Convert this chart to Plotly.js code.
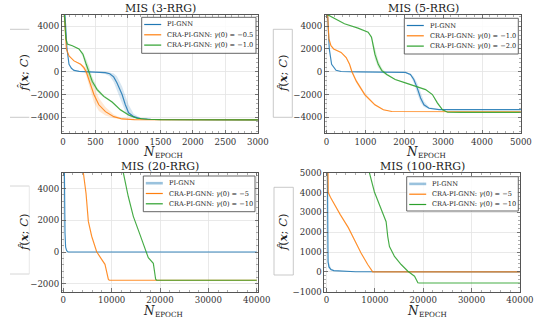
<!DOCTYPE html>
<html><head><meta charset="utf-8">
<script src="https://cdn.plot.ly/plotly-3.0.1.min.js"></script>
<style>html,body{margin:0;padding:0;background:#fff}#chart{width:535px;height:320px}</style>
</head><body><div id="chart"></div>
<script>
// ---------------- DATA ----------------
const titles = ['MIS (3-RRG)', 'MIS (5-RRG)', 'MIS (20-RRG)', 'MIS (100-RRG)'];
const seriesNames = ['PI-GNN', 'CRA-PI-GNN'];
const gammaLabels1 = ['−0.5', '−1.0'];
const gammaLabels2 = ['−1.0', '−2.0'];
const gammaLabels3 = ['−5', '−10'];
const gammaLabels4 = ['−5', '−10'];

// Panel 1: MIS (3-RRG)
const p1_pi_x  = [0, 30, 62, 93, 130, 170, 250, 400, 550, 650, 720, 780, 830, 880, 910, 960, 1010, 1090, 1200, 1350, 1500, 2000, 3000];
const p1_pi_y  = [8000, 5000, 2000, 650, 300, 120, 30, -10, -40, -80, -180, -450, -960, -1600, -2000, -2900, -3600, -3940, -4120, -4180, -4200, -4210, -4220];
const p1_pi_hi = [8000, 5000, 2000, 650, 300, 130, 50, 30, 20, 0, -60, -150, -400, -900, -1300, -2100, -2900, -3700, -4050, -4160, -4190, -4200, -4210];
const p1_pi_lo = [8000, 5000, 2000, 650, 300, 110, 10, -50, -100, -200, -400, -900, -1600, -2400, -2800, -3500, -3900, -4080, -4170, -4200, -4210, -4220, -4230];

const p1_a_x  = [0, 20, 52, 93, 170, 272, 322, 358, 409, 476, 552, 654, 782, 909, 1100, 1500, 3000];
const p1_a_y  = [7000, 4800, 2000, 1390, 950, 650, 355, 0, -830, -2000, -2900, -3500, -3940, -4140, -4200, -4210, -4220];
const p1_a_hi = [7000, 4800, 2000, 1400, 980, 720, 520, 250, -300, -1300, -2300, -3100, -3750, -4080, -4180, -4200, -4210];
const p1_a_lo = [7000, 4800, 2000, 1380, 920, 580, 150, -350, -1400, -2700, -3450, -3850, -4070, -4180, -4220, -4220, -4230];

const p1_b_x  = [0, 20, 45, 67, 144, 246, 307, 358, 399, 450, 526, 628, 756, 883, 1011, 1138, 1300, 1500, 3000];
const p1_b_y  = [7000, 4800, 2900, 2430, 2280, 2000, 1540, 650, 0, -830, -1570, -2160, -2660, -3340, -3790, -4080, -4170, -4200, -4220];
const p1_b_hi = [7000, 4800, 2900, 2430, 2290, 2030, 1700, 1100, 500, -450, -1400, -2050, -2600, -3250, -3720, -4050, -4160, -4200, -4220];
const p1_b_lo = [7000, 4800, 2900, 2430, 2270, 1950, 1300, 200, -500, -1150, -1750, -2270, -2720, -3430, -3860, -4110, -4180, -4210, -4230];

// Panel 2: MIS (5-RRG)
const p2_pi_x  = [0, 26, 70, 130, 244, 374, 800, 1500, 2027, 2158, 2245, 2332, 2419, 2506, 2636, 2897, 3500, 5000];
const p2_pi_y  = [9000, 5000, 2000, 650, 120, 20, -10, -30, -60, -240, -680, -1420, -2300, -2900, -3200, -3320, -3330, -3330];
const p2_pi_hi = [9000, 5000, 2000, 650, 130, 30, 0, -20, -40, -150, -450, -1000, -1800, -2600, -3100, -3300, -3320, -3320];
const p2_pi_lo = [9000, 5000, 2000, 650, 110, 10, -20, -40, -80, -350, -1000, -1900, -2700, -3100, -3280, -3340, -3340, -3340];

const p2_a_x  = [0, 30, 60, 113, 183, 374, 505, 592, 653, 766, 983, 1244, 1462, 1679, 2500, 5000];
const p2_a_y  = [7000, 4300, 2900, 2280, 2000, 1690, 1240, 650, 0, -830, -2000, -2900, -3340, -3490, -3500, -3510];
const p2_a_hi = [7000, 4300, 2900, 2290, 2020, 1720, 1300, 750, 150, -650, -1850, -2820, -3300, -3470, -3490, -3500];
const p2_a_lo = [7000, 4300, 2900, 2270, 1980, 1660, 1180, 550, -150, -1000, -2150, -2980, -3380, -3510, -3510, -3520];

const p2_b_x  = [0, 461, 809, 1070, 1157, 1244, 1331, 1418, 1549, 1766, 2027, 2288, 2549, 2723, 2854, 2984, 3115, 3500, 5000];
const p2_b_y  = [5050, 4200, 3820, 3460, 3020, 1540, 650, 120, -240, -680, -980, -1270, -1570, -2000, -2750, -3340, -3550, -3560, -3560];
const p2_b_hi = [5050, 4200, 3820, 3470, 3150, 2000, 1000, 350, -150, -640, -960, -1250, -1550, -1950, -2650, -3280, -3530, -3550, -3550];
const p2_b_lo = [5050, 4200, 3820, 3450, 2880, 1100, 350, -50, -330, -720, -1000, -1290, -1590, -2050, -2850, -3400, -3570, -3570, -3570];

// Panel 3: MIS (20-RRG)
const p3_pi_x = [0, 150, 250, 350, 480, 700, 1000, 40000];
const p3_pi_y = [12000, 6000, 3000, 1200, 300, 80, 10, 0];
const p3_a_x  = [3900, 4145, 4700, 4970, 5180, 5870, 6900, 7930, 8620, 9310, 9500, 40000];
const p3_a_y  = [6500, 5000, 3700, 2660, 1930, 995, 16, -463, -775, -1713, -1775, -1775];
const p3_b_x  = [12000, 12410, 13440, 14480, 15860, 16890, 17580, 18620, 19100, 19300, 40000];
const p3_b_y  = [6500, 5000, 3500, 2250, 1100, 160, -360, -710, -1713, -1775, -1775];

// Panel 4: MIS (100-RRG)
const p4_pi_x  = [0, 100, 180, 230, 300, 500, 900, 1500, 3000, 6000, 40000];
const p4_pi_y  = [12000, 7000, 3000, 1000, 500, 250, 117, 60, 30, 5, 0];
const p4_pi_hi = [12000, 9000, 5000, 2500, 1200, 500, 200, 80, 40, 10, 0];
const p4_pi_lo = [12000, 5000, 1500, 500, 250, 150, 60, 30, 15, 2, 0];
const p4_a_x  = [100, 208, 346, 800, 1400, 2800, 4500, 5740, 7130, 8510, 9550, 40000];
const p4_a_y  = [9000, 5000, 4000, 3760, 3480, 2900, 2230, 1620, 950, 370, 0, 0];
const p4_b_x  = [8500, 8860, 9900, 11280, 12320, 12660, 13010, 14050, 15430, 16820, 18200, 18890, 19200, 40000];
const p4_b_y  = [6000, 5000, 4030, 3120, 2530, 1780, 1280, 780, 370, 30, -220, -550, -560, -560];

// ---------------- STYLE ----------------
const C = {blue: '#1f77b4', orange: '#ff7f0e', green: '#2ca02c'};
const BAND = {blue: 'rgba(31,119,180,0.18)', orange: 'rgba(255,127,14,0.18)', green: 'rgba(44,160,44,0.18)'};
const FONT = 'DejaVu Serif';
const W = 535, H = 320;
const px = p => p / W;
const py = p => 1 - p / H;

const traces = [];
function band(ax, x, lo, hi, col) {
  traces.push({x, y: lo, xaxis: 'x' + ax, yaxis: 'y' + ax, mode: 'lines', line: {width: 0, color: col}, showlegend: false, hoverinfo: 'skip'});
  traces.push({x, y: hi, xaxis: 'x' + ax, yaxis: 'y' + ax, mode: 'lines', line: {width: 0, color: col}, fill: 'tonexty', fillcolor: col, showlegend: false, hoverinfo: 'skip'});
}
function line(ax, x, y, col, name) {
  traces.push({x, y, xaxis: 'x' + ax, yaxis: 'y' + ax, mode: 'lines', name, line: {width: 1.15, color: col}, opacity: 0.88, showlegend: false});
}
const lab = (g) => seriesNames[1] + ': <i>γ</i>(0) = ' + g;

band('', p1_pi_x, p1_pi_lo, p1_pi_hi, BAND.blue);
band('', p1_a_x, p1_a_lo, p1_a_hi, BAND.orange);
band('', p1_b_x, p1_b_lo, p1_b_hi, BAND.green);
line('', p1_pi_x, p1_pi_y, C.blue, seriesNames[0]);
line('', p1_a_x, p1_a_y, C.orange, lab(gammaLabels1[0]));
line('', p1_b_x, p1_b_y, C.green, lab(gammaLabels1[1]));

band('2', p2_pi_x, p2_pi_lo, p2_pi_hi, BAND.blue);
band('2', p2_a_x, p2_a_lo, p2_a_hi, BAND.orange);
band('2', p2_b_x, p2_b_lo, p2_b_hi, BAND.green);
line('2', p2_pi_x, p2_pi_y, C.blue, seriesNames[0]);
line('2', p2_a_x, p2_a_y, C.orange, lab(gammaLabels2[0]));
line('2', p2_b_x, p2_b_y, C.green, lab(gammaLabels2[1]));

line('3', p3_pi_x, p3_pi_y, C.blue, seriesNames[0]);
line('3', p3_a_x, p3_a_y, C.orange, lab(gammaLabels3[0]));
line('3', p3_b_x, p3_b_y, C.green, lab(gammaLabels3[1]));

band('4', p4_pi_x, p4_pi_lo, p4_pi_hi, BAND.blue);
line('4', p4_pi_x, p4_pi_y, C.blue, seriesNames[0]);
line('4', p4_a_x, p4_a_y, C.orange, lab(gammaLabels4[0]));
line('4', p4_b_x, p4_b_y, C.green, lab(gammaLabels4[1]));

// ---------------- AXES ----------------
function xa(dom, range, dtick, minor, anchor) {
  return {domain: dom, range, dtick, tick0: 0, anchor, showline: true, linecolor: '#555', linewidth: 1, mirror: 'ticks',
    ticks: 'inside', ticklen: 3.5, tickcolor: '#555', tickwidth: 0.8, showgrid: true, gridcolor: '#e3e3e3', gridwidth: 0.8,
    zeroline: false, tickformat: 'd',
    tickfont: {family: FONT, size: 8.6, color: '#333'},
    minor: {dtick: minor, tick0: 0, ticks: 'inside', ticklen: 2, tickcolor: '#777', tickwidth: 0.6, showgrid: false}};
}
const topY = [py(133.3), py(14.7)];
const botY = [py(291.7), py(172.7)];
const leftX = [px(62), px(258)];
const rightX = [px(325), px(521)];
const rightX4 = [px(324.4), px(520)];

const layout = {
  width: W, height: H, margin: {l: 0, r: 0, t: 0, b: 0}, paper_bgcolor: '#fff', plot_bgcolor: '#fff', showlegend: false,
  xaxis:  xa(leftX, [-15, 3002], 500, 100, 'y'),
  yaxis:  xa(topY, [-5400, 5000], 2000, 400, 'x'),
  xaxis2: xa(rightX, [-40, 5003], 1000, 200, 'y2'),
  yaxis2: xa(topY, [-5400, 5000], 2000, 400, 'x2'),
  xaxis3: xa(leftX, [-270, 40270], 10000, 2000, 'y3'),
  yaxis3: xa(botY, [-2500, 5000], 2000, 400, 'x3'),
  xaxis4: xa(rightX4, [-450, 40020], 10000, 2000, 'y4'),
  yaxis4: xa(botY, [-1001, 5001], 1000, 200, 'x4'),
  shapes: [], annotations: []
};

// ---------------- TITLES / LABELS ----------------
const ylabel = '<i>f\u0302</i>(<b><i>x</i></b>; <i>C</i>)';
const panelGeo = [
  {tx: 160, ty: 8, xc: 160, ny: 152, yx: 23, yy: 73.5},
  {tx: 423, ty: 8, xc: 423, ny: 152, yx: 282.5, yy: 73.5},
  {tx: 160, ty: 166.5, xc: 160, ny: 310.5, yx: 23.5, yy: 232.5},
  {tx: 422, ty: 166.5, xc: 424, ny: 310.5, yx: 282.5, yy: 232.5}
];
panelGeo.forEach((g, i) => {
  layout.annotations.push({text: titles[i], xref: 'paper', yref: 'paper', x: px(g.tx), y: py(g.ty), xanchor: 'center', yanchor: 'middle', showarrow: false, font: {family: FONT, size: 11, color: '#222'}});
  layout.annotations.push({text: '<i>N</i>', xref: 'paper', yref: 'paper', x: px(g.xc - 11.5), y: py(g.ny), xanchor: 'center', yanchor: 'middle', showarrow: false, font: {family: FONT, size: 12, color: '#222'}});
  layout.annotations.push({text: 'EPOCH', xref: 'paper', yref: 'paper', x: px(g.xc - 7), y: py(g.ny + 3.6), xanchor: 'left', yanchor: 'middle', showarrow: false, font: {family: FONT, size: 7.2, color: '#222'}});
  layout.annotations.push({text: ylabel, xref: 'paper', yref: 'paper', x: px(g.yx), y: py(g.yy), xanchor: 'center', yanchor: 'middle', textangle: -90, showarrow: false, font: {family: FONT, size: 11.5, color: '#222'}});
});

// ylabel frame artefacts
function seg(x0, y0, x1, y1, col) {
  layout.shapes.push({type: 'line', xref: 'paper', yref: 'paper', x0: px(x0), y0: py(y0), x1: px(x1), y1: py(y1), line: {color: col, width: 0.8}});
}
seg(10, 29.3, 29.3, 29.3, '#bbb'); seg(10, 117.3, 29.3, 117.3, '#bbb');
seg(10, 186, 29.3, 186, '#ccc'); seg(10, 274, 29.3, 274, '#ccc'); seg(29.3, 186, 29.3, 274, '#e2e2e2');
layout.shapes.push({type: 'rect', xref: 'paper', yref: 'paper', x0: px(273.3), x1: px(292.3), y0: py(117.3), y1: py(29.3), line: {color: '#bbb', width: 0.8}});
layout.shapes.push({type: 'rect', xref: 'paper', yref: 'paper', x0: px(274), x1: px(293.3), y0: py(275), y1: py(187.3), line: {color: '#bbb', width: 0.8}});

// ---------------- LEGENDS ----------------
function legendBox(x0, x1, y0, y1, labels, piBand) {
  layout.shapes.push({type: 'rect', xref: 'paper', yref: 'paper', x0: px(x0), x1: px(x1), y0: py(y1), y1: py(y0), fillcolor: 'rgba(255,255,255,0.85)', line: {color: '#555', width: 0.9}});
  const cols = [C.blue, C.orange, C.green];
  labels.forEach((t, k) => {
    const yc = y0 + 7.2 + k * 10.3;
    const isBand = piBand && k === 0;
    layout.shapes.push({type: 'line', xref: 'paper', yref: 'paper', x0: px(x0 + 2.5), x1: px(x0 + 19.5), y0: py(yc), y1: py(yc),
      line: {color: isBand ? 'rgba(31,119,180,0.45)' : cols[k], width: isBand ? 2.6 : 1.2}});
    layout.annotations.push({text: t, xref: 'paper', yref: 'paper', x: px(x0 + 23.3), y: py(yc), xanchor: 'left', yanchor: 'middle', showarrow: false, font: {family: FONT, size: 6.6, color: '#222'}});
  });
}
legendBox(141.7, 256, 17.3, 53.3, [seriesNames[0], lab(gammaLabels1[0]), lab(gammaLabels1[1])], false);
legendBox(404.3, 518.3, 18.3, 54, [seriesNames[0], lab(gammaLabels2[0]), lab(gammaLabels2[1])], false);
legendBox(143.3, 255, 176, 211.7, [seriesNames[0], lab(gammaLabels3[0]), lab(gammaLabels3[1])], true);
legendBox(406.7, 518.3, 176.7, 211, [seriesNames[0], lab(gammaLabels4[0]), lab(gammaLabels4[1])], true);

Plotly.newPlot('chart', traces, layout, {staticPlot: true, displayModeBar: false});
</script></body></html>
